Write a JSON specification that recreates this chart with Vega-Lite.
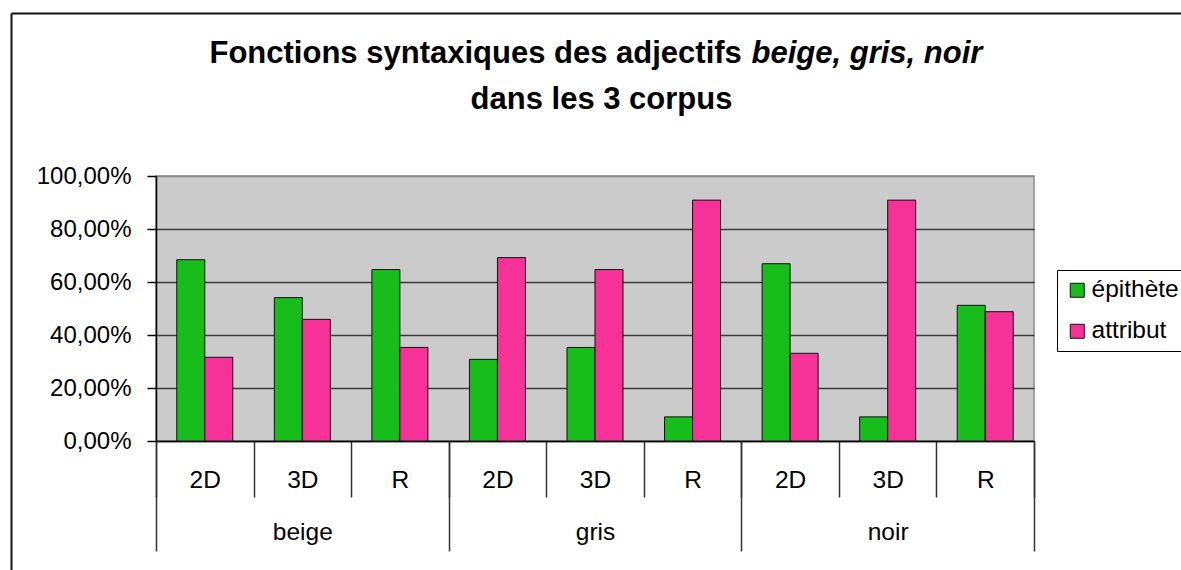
{
  "$schema": "https://vega.github.io/schema/vega-lite/v6.json",
  "width": 878,
  "height": 265,
  "autosize": {"type": "none"},
  "padding": {"left": 156, "top": 176, "right": 147, "bottom": 129},
  "background": "white",
  "config": {
    "font": "Liberation Sans",
    "view": {"fill": "#cbcbcb", "stroke": "#8a8a8a", "strokeWidth": 1.5},
    "locale": {"number": {"decimal": ",", "thousands": " ", "grouping": [3], "currency": ["", " €"]}},
    "axis": {"labelFont": "Liberation Sans", "titleFont": "Liberation Sans", "labelColor": "black", "titleColor": "black"},
    "legend": {"labelFont": "Liberation Sans"}
  },
  "data": {
    "values": [
      {"adjectif": "beige", "corpus": "2D", "groupe": "beige 2D", "fonction": "épithète", "valeur": 0.684},
      {"adjectif": "beige", "corpus": "2D", "groupe": "beige 2D", "fonction": "attribut", "valeur": 0.316},
      {"adjectif": "beige", "corpus": "3D", "groupe": "beige 3D", "fonction": "épithète", "valeur": 0.541},
      {"adjectif": "beige", "corpus": "3D", "groupe": "beige 3D", "fonction": "attribut", "valeur": 0.459},
      {"adjectif": "beige", "corpus": "R", "groupe": "beige R", "fonction": "épithète", "valeur": 0.647},
      {"adjectif": "beige", "corpus": "R", "groupe": "beige R", "fonction": "attribut", "valeur": 0.353},
      {"adjectif": "gris", "corpus": "2D", "groupe": "gris 2D", "fonction": "épithète", "valeur": 0.308},
      {"adjectif": "gris", "corpus": "2D", "groupe": "gris 2D", "fonction": "attribut", "valeur": 0.692},
      {"adjectif": "gris", "corpus": "3D", "groupe": "gris 3D", "fonction": "épithète", "valeur": 0.353},
      {"adjectif": "gris", "corpus": "3D", "groupe": "gris 3D", "fonction": "attribut", "valeur": 0.647},
      {"adjectif": "gris", "corpus": "R", "groupe": "gris R", "fonction": "épithète", "valeur": 0.091},
      {"adjectif": "gris", "corpus": "R", "groupe": "gris R", "fonction": "attribut", "valeur": 0.909},
      {"adjectif": "noir", "corpus": "2D", "groupe": "noir 2D", "fonction": "épithète", "valeur": 0.669},
      {"adjectif": "noir", "corpus": "2D", "groupe": "noir 2D", "fonction": "attribut", "valeur": 0.331},
      {"adjectif": "noir", "corpus": "3D", "groupe": "noir 3D", "fonction": "épithète", "valeur": 0.091},
      {"adjectif": "noir", "corpus": "3D", "groupe": "noir 3D", "fonction": "attribut", "valeur": 0.909},
      {"adjectif": "noir", "corpus": "R", "groupe": "noir R", "fonction": "épithète", "valeur": 0.512},
      {"adjectif": "noir", "corpus": "R", "groupe": "noir R", "fonction": "attribut", "valeur": 0.488}
    ]
  },
  "layer": [
    {
      "mark": {"type": "bar", "stroke": "#111111", "strokeWidth": 1},
      "encoding": {
        "x": {
          "field": "groupe", "type": "nominal", "sort": null,
          "scale": {"paddingInner": 0, "paddingOuter": 0},
          "axis": {
            "orient": "bottom",
            "domain": true, "domainColor": "#000000", "domainWidth": 1.5,
            "ticks": true, "tickBand": "extent", "tickSize": 56, "tickColor": "#333333", "tickWidth": 1.5,
            "labelExpr": "split(datum.value, ' ')[1]",
            "labelAngle": 0, "labelFontSize": 24.5, "labelBaseline": "alphabetic", "labelPadding": -10,
            "labelOverlap": false, "labelFlush": false,
            "grid": false,
            "title": "dans les 3 corpus",
            "titleFontSize": 31, "titleFontWeight": "bold",
            "titleX": 445, "titleY": -333, "titleAlign": "center", "titleBaseline": "alphabetic", "titleAngle": 0
          }
        },
        "xOffset": {"field": "fonction", "type": "nominal", "sort": ["épithète", "attribut"], "scale": {"paddingInner": 0, "paddingOuter": 0.742}},
        "y": {
          "field": "valeur", "type": "quantitative",
          "scale": {"domain": [0, 1], "nice": false},
          "axis": {
            "orient": "left",
            "values": [0, 0.2, 0.4, 0.6, 0.8, 1],
            "format": ".2%",
            "domain": true, "domainColor": "#000000", "domainWidth": 1.5,
            "ticks": true, "tickSize": 9, "tickColor": "#000000", "tickWidth": 1.5,
            "labelFontSize": 24, "labelPadding": 16,
            "grid": true,
            "gridColor": {"condition": {"test": "datum.value >= 1", "value": "#8a8a8a"}, "value": "#3c3c3c"},
            "gridWidth": 1.5,
            "title": "Fonctions syntaxiques des adjectifs",
            "titleFontSize": 31, "titleFontWeight": "bold",
            "titleAngle": 0, "titleX": 53, "titleY": -114, "titleAlign": "left", "titleBaseline": "alphabetic"
          }
        },
        "color": {
          "field": "fonction", "type": "nominal",
          "scale": {"domain": ["épithète", "attribut"], "range": ["#16bd1b", "#f63298"]},
          "legend": {
            "orient": "none", "legendX": 901, "legendY": 94,
            "direction": "vertical",
            "title": null,
            "fillColor": "white", "strokeColor": "#000000",
            "padding": 8,
            "symbolType": "square", "symbolSize": 196, "symbolStrokeColor": "#111111", "symbolStrokeWidth": 1,
            "symbolOpacity": 1,
            "labelFontSize": 24.5, "labelColor": "black", "labelOffset": 2,
            "rowPadding": 16
          }
        }
      }
    },
    {
      "mark": {"type": "point", "opacity": 0},
      "encoding": {
        "x": {
          "field": "adjectif", "type": "nominal", "sort": null,
          "scale": {"paddingInner": 0, "paddingOuter": 0},
          "axis": {
            "orient": "bottom",
            "domain": false,
            "ticks": true, "tickBand": "extent", "tickSize": 110, "tickColor": "#333333", "tickWidth": 1.5,
            "labelAngle": 0, "labelFontSize": 24.5, "labelBaseline": "alphabetic", "labelPadding": -11.5,
            "labelOverlap": false, "labelFlush": false,
            "grid": false,
            "title": "beige, gris, noir",
            "titleFontSize": 31, "titleFontWeight": "bold", "titleFontStyle": "italic",
            "titleX": 595, "titleY": -379, "titleAlign": "left", "titleBaseline": "alphabetic", "titleAngle": 0
          }
        }
      }
    },
    {
      "mark": {"type": "point", "opacity": 0},
      "encoding": {
        "x": {
          "field": "valeur", "type": "quantitative",
          "scale": {"domain": [0, 1], "range": [-145, 1035], "nice": false, "zero": false},
          "axis": {"orient": "top", "offset": 163, "domain": true, "domainColor": "#111111", "domainWidth": 2, "ticks": false, "labels": false, "grid": false, "title": null}
        },
        "y": {
          "field": "valeur", "type": "quantitative",
          "scale": {"domain": [0, 1], "range": [399, -163], "nice": false, "zero": false},
          "axis": {"orient": "left", "offset": 145, "domain": true, "domainColor": "#111111", "domainWidth": 2, "ticks": false, "labels": false, "grid": false, "title": null}
        }
      }
    }
  ],
  "resolve": {"scale": {"x": "independent", "y": "independent"}}
}
